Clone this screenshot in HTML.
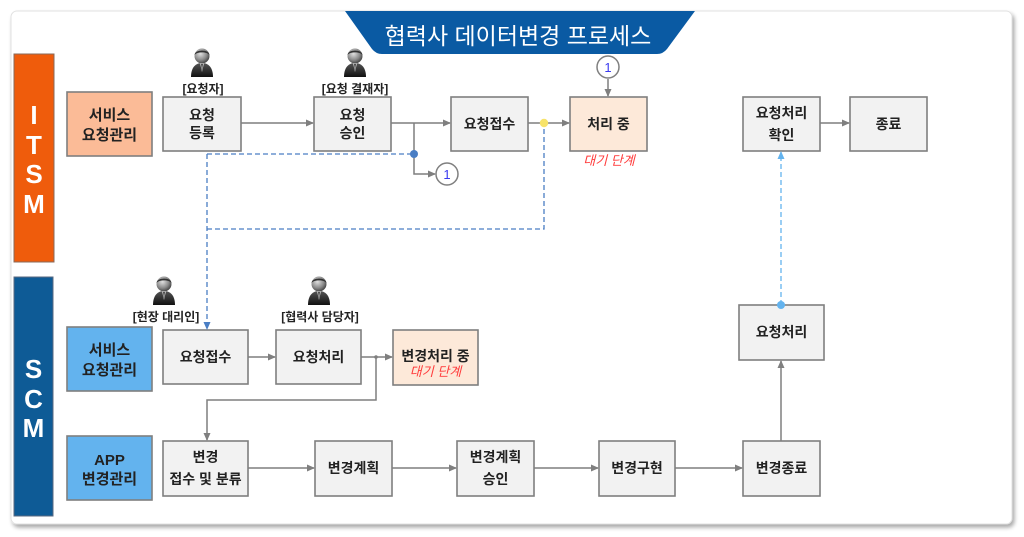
<!DOCTYPE html>
<html><head><meta charset="utf-8">
<style>
html,body{margin:0;padding:0;background:#fff;width:1024px;height:537px;overflow:hidden;}
svg{display:block;}
text{font-family:"Liberation Sans","Noto Sans CJK KR",sans-serif;}
.b{font-weight:bold;font-size:14px;fill:#222;}
.lbl{font-weight:bold;font-size:12px;fill:#222;}
.red{font-style:italic;font-size:13px;fill:#ff3b3b;}
.big{font-weight:bold;font-size:26px;fill:#fff;}
</style></head><body>
<svg width="1024" height="537" viewBox="0 0 1024 537" xmlns="http://www.w3.org/2000/svg">
<defs>
<filter id="sh" x="-5%" y="-5%" width="110%" height="115%">
<feGaussianBlur in="SourceAlpha" stdDeviation="2"/>
<feOffset dx="2" dy="3"/>
<feComponentTransfer><feFuncA type="linear" slope="0.35"/></feComponentTransfer>
<feMerge><feMergeNode/><feMergeNode in="SourceGraphic"/></feMerge>
</filter>
<marker id="ag" markerWidth="8" markerHeight="8" refX="7" refY="4" orient="auto" markerUnits="userSpaceOnUse">
<path d="M0,0.5 L8,4 L0,7.5 z" fill="#7f7f7f"/></marker>
<marker id="ab" markerWidth="8" markerHeight="8" refX="7" refY="4" orient="auto" markerUnits="userSpaceOnUse">
<path d="M0,0.5 L8,4 L0,7.5 z" fill="#4a7ec4"/></marker>
<marker id="al" markerWidth="8" markerHeight="8" refX="7" refY="4" orient="auto" markerUnits="userSpaceOnUse">
<path d="M0,0.5 L8,4 L0,7.5 z" fill="#63b3ee"/></marker>
<radialGradient id="hg" cx="0.4" cy="0.35" r="0.7">
<stop offset="0" stop-color="#e0e0e0"/><stop offset="0.6" stop-color="#8a8a8a"/><stop offset="1" stop-color="#3a3a3a"/></radialGradient>
<linearGradient id="bg" x1="0" y1="0" x2="0" y2="1">
<stop offset="0" stop-color="#555"/><stop offset="1" stop-color="#111"/></linearGradient>
<g id="person">
<path d="M-11,29 C-11,19 -6,15 0,15 C6,15 11,19 11,29 z" fill="url(#bg)"/>
<path d="M-2,15 L0,24 L2,15 z" fill="#ddd"/>
<path d="M-0.8,16 L0,23 L0.8,16 z" fill="#222"/>
<circle cx="0" cy="8" r="7.5" fill="url(#hg)"/>
<path d="M-7.5,7 C-7,1 7,1 7.5,7 C5,3.5 -5,3.5 -7.5,7 z" fill="#333"/>
</g>
</defs>

<!-- card -->
<rect x="11" y="11" width="1001" height="513" rx="6" fill="#fff" stroke="#e2e2e2" stroke-width="1" filter="url(#sh)"/>

<!-- title banner -->
<path d="M345,11 L695,11 L667,49 Q663,54 657,54 L382,54 Q376,54 372,49 z" fill="#0a5aa3"/>
<text x="518" y="44" text-anchor="middle" style="font-size:23px;fill:#fff;">협력사 데이터변경 프로세스</text>

<!-- ITSM bar -->
<rect x="14" y="54" width="40" height="208" fill="#ef5c0c" stroke="#8a6a5a" stroke-width="1"/>
<text class="big" x="34" y="124" text-anchor="middle">I</text>
<text class="big" x="34" y="154" text-anchor="middle">T</text>
<text class="big" x="34" y="183" text-anchor="middle">S</text>
<text class="big" x="34" y="213" text-anchor="middle">M</text>

<!-- SCM bar -->
<rect x="14" y="277" width="39" height="239" fill="#0e5b96" stroke="#5a6a80" stroke-width="1"/>
<text class="big" x="33.5" y="378" text-anchor="middle">S</text>
<text class="big" x="33.5" y="408" text-anchor="middle">C</text>
<text class="big" x="33.5" y="437" text-anchor="middle">M</text>

<!-- ITSM boxes -->
<g stroke="#7f7f7f" stroke-width="1.6">
<rect x="67" y="92" width="85" height="64" fill="#fbbb97"/>
<rect x="163" y="97" width="78" height="54" fill="#f2f2f2"/>
<rect x="314" y="97" width="77" height="54" fill="#f2f2f2"/>
<rect x="451" y="97" width="77" height="54" fill="#f2f2f2"/>
<rect x="570" y="97" width="77" height="54" fill="#fde9d9"/>
<rect x="743" y="97" width="77" height="54" fill="#f2f2f2"/>
<rect x="850" y="97" width="77" height="54" fill="#f2f2f2"/>
<!-- SCM -->
<rect x="67" y="327" width="85" height="64" fill="#63b3ee"/>
<rect x="163" y="330" width="85" height="54" fill="#f2f2f2"/>
<rect x="276" y="330" width="85" height="54" fill="#f2f2f2"/>
<rect x="393" y="330" width="85" height="55" fill="#fde9d9"/>
<rect x="739" y="305" width="85" height="55" fill="#f2f2f2"/>
<rect x="67" y="436" width="85" height="64" fill="#63b3ee"/>
<rect x="163" y="441" width="85" height="55" fill="#f2f2f2"/>
<rect x="315" y="441" width="77" height="55" fill="#f2f2f2"/>
<rect x="457" y="441" width="77" height="55" fill="#f2f2f2"/>
<rect x="599" y="441" width="76" height="55" fill="#f2f2f2"/>
<rect x="743" y="441" width="77" height="55" fill="#f2f2f2"/>
</g>

<!-- box texts -->
<text class="b" style="font-size:15px" x="109.5" y="120" text-anchor="middle">서비스</text>
<text class="b" style="font-size:15px" x="109.5" y="140" text-anchor="middle">요청관리</text>
<text class="b" x="202" y="120" text-anchor="middle">요청</text>
<text class="b" x="202" y="138" text-anchor="middle">등록</text>
<text class="b" x="352.5" y="120" text-anchor="middle">요청</text>
<text class="b" x="352.5" y="138" text-anchor="middle">승인</text>
<text class="b" x="489.5" y="129" text-anchor="middle">요청접수</text>
<text class="b" x="608.5" y="129" text-anchor="middle">처리 중</text>
<text class="red" x="609" y="165" text-anchor="middle">대기 단계</text>
<text class="b" x="781.5" y="118" text-anchor="middle">요청처리</text>
<text class="b" x="781.5" y="140" text-anchor="middle">확인</text>
<text class="b" x="888.5" y="129" text-anchor="middle">종료</text>

<text class="b" style="font-size:15px" x="109.5" y="355" text-anchor="middle">서비스</text>
<text class="b" style="font-size:15px" x="109.5" y="375" text-anchor="middle">요청관리</text>
<text class="b" x="205.5" y="362" text-anchor="middle">요청접수</text>
<text class="b" x="318.5" y="362" text-anchor="middle">요청처리</text>
<text class="b" x="435.5" y="361" text-anchor="middle">변경처리 중</text>
<text class="red" x="435.5" y="376" text-anchor="middle">대기 단계</text>
<text class="b" x="781.5" y="337" text-anchor="middle">요청처리</text>

<text class="b" style="font-size:15px" x="109.5" y="465" text-anchor="middle">APP</text>
<text class="b" style="font-size:15px" x="109.5" y="484" text-anchor="middle">변경관리</text>
<text class="b" x="205.5" y="462" text-anchor="middle">변경</text>
<text class="b" x="205.5" y="484" text-anchor="middle">접수 및 분류</text>
<text class="b" x="353.5" y="473" text-anchor="middle">변경계획</text>
<text class="b" x="495.5" y="462" text-anchor="middle">변경계획</text>
<text class="b" x="495.5" y="484" text-anchor="middle">승인</text>
<text class="b" x="637" y="473" text-anchor="middle">변경구현</text>
<text class="b" x="781.5" y="473" text-anchor="middle">변경종료</text>

<!-- persons -->
<use href="#person" x="202" y="48"/>
<use href="#person" x="355" y="48"/>
<use href="#person" x="164" y="276"/>
<use href="#person" x="319" y="276"/>
<text class="lbl" x="203" y="93" text-anchor="middle">[요청자]</text>
<text class="lbl" x="355" y="93" text-anchor="middle">[요청 결재자]</text>
<text class="lbl" x="166" y="321" text-anchor="middle">[현장 대리인]</text>
<text class="lbl" x="320" y="321" text-anchor="middle">[협력사 담당자]</text>

<!-- gray connectors -->
<g stroke="#7f7f7f" stroke-width="1.5" fill="none">
<line x1="241" y1="123" x2="313" y2="123" marker-end="url(#ag)"/>
<line x1="391" y1="123" x2="450" y2="123" marker-end="url(#ag)"/>
<polyline points="414,123 414,174 435,174" marker-end="url(#ag)"/>
<line x1="528" y1="123" x2="569" y2="123" marker-end="url(#ag)"/>
<line x1="608" y1="79" x2="608" y2="96" marker-end="url(#ag)"/>
<line x1="820" y1="123" x2="849" y2="123" marker-end="url(#ag)"/>
<line x1="248" y1="357" x2="275" y2="357" marker-end="url(#ag)"/>
<line x1="361" y1="357" x2="392" y2="357" marker-end="url(#ag)"/>
<polyline points="376,357 376,400 207,400 207,440" marker-end="url(#ag)"/>
<line x1="248" y1="468" x2="314" y2="468" marker-end="url(#ag)"/>
<line x1="392" y1="468" x2="456" y2="468" marker-end="url(#ag)"/>
<line x1="534" y1="468" x2="598" y2="468" marker-end="url(#ag)"/>
<line x1="675" y1="468" x2="742" y2="468" marker-end="url(#ag)"/>
<line x1="781" y1="441" x2="781" y2="361" marker-end="url(#ag)"/>
</g>
<circle cx="376" cy="357" r="1.8" fill="#7f7f7f"/>

<!-- dashed blue -->
<g stroke="#4a7ec4" stroke-width="1.3" fill="none" stroke-dasharray="5,3">
<line x1="207" y1="154" x2="414" y2="154"/>
<line x1="207" y1="154" x2="207" y2="329" marker-end="url(#ab)"/>
<polyline points="207,229 544,229 544,123"/>
</g>
<circle cx="414" cy="154" r="4" fill="#4a7ec4"/>
<circle cx="544" cy="123" r="4.2" fill="#f7e36a"/>

<g stroke="#63b3ee" stroke-width="1.3" fill="none" stroke-dasharray="5,3">
<line x1="781" y1="305" x2="781" y2="152" marker-end="url(#al)"/>
</g>
<circle cx="781" cy="305" r="4" fill="#63b3ee"/>

<!-- connector circles -->
<circle cx="447" cy="174" r="11" fill="#fff" stroke="#7f7f7f" stroke-width="1.5"/>
<text x="447" y="179" text-anchor="middle" style="font-size:13px;fill:#3a3af0;">1</text>
<circle cx="608" cy="67" r="11" fill="#fff" stroke="#7f7f7f" stroke-width="1.5"/>
<text x="608" y="72" text-anchor="middle" style="font-size:13px;fill:#3a3af0;">1</text>
</svg>
</body></html>
